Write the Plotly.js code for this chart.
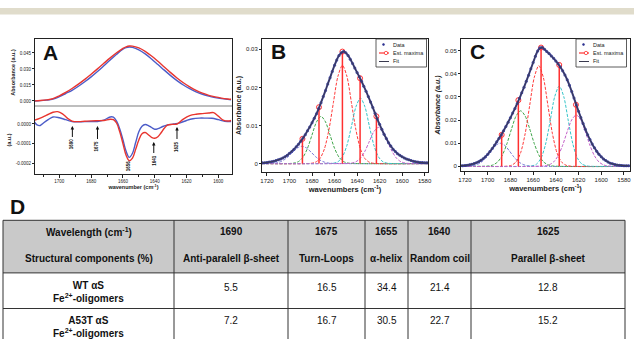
<!DOCTYPE html>
<html><head><meta charset="utf-8">
<script src="https://cdn.plot.ly/plotly-3.0.1.min.js"></script>
<style>html,body{margin:0;padding:0;background:#fff}#chart{width:634px;height:339px}</style>
</head><body><div id="chart"></div>
<script>
// ---------- Panel A : absorbance (top) ----------
const aTopWave = [1716,1712,1708,1704,1700,1696,1692,1688,1684,1680,1676,1672,1668,1664,1660,1658,1656,1654,1650,1646,1642,1638,1634,1630,1626,1622,1618,1614,1610,1606,1602,1598,1594,1592];
const aTopRed  = [0.0001,0.0004,0.0010,0.0022,0.0048,0.0080,0.0117,0.0158,0.0203,0.0251,0.0301,0.0353,0.0404,0.0452,0.0494,0.0508,0.0515,0.0514,0.0497,0.0465,0.0422,0.0372,0.0319,0.0266,0.0216,0.0171,0.0132,0.0099,0.0073,0.0053,0.0038,0.0027,0.0019,0.0016];
const aTopBlue = [0.0000,0.0003,0.0008,0.0017,0.0040,0.0070,0.0100,0.0138,0.0180,0.0226,0.0276,0.0330,0.0385,0.0438,0.0485,0.0500,0.0506,0.0503,0.0480,0.0442,0.0394,0.0342,0.0289,0.0238,0.0191,0.0150,0.0115,0.0086,0.0063,0.0045,0.0032,0.0022,0.0015,0.0012];
// ---------- Panel A : second derivative (bottom) ----------
const aDerWaveRed = [1716,1712,1708,1704,1701,1698,1695,1692,1688,1684,1680,1676,1672,1668,1666,1664,1662,1660,1658,1656,1654,1652,1650,1648,1646,1644,1642,1640,1638,1636,1634,1632,1629,1626,1622,1618,1614,1610,1606,1603,1600,1597,1594,1592];
const aDerRed = [0.000018,0.000030,0.000045,0.000060,0.000063,0.000052,0.000030,0.000015,0.000012,0.000014,0.000016,0.000017,0.000018,0.000024,0.000022,0.000005,-0.000040,-0.000100,-0.000160,-0.000188,-0.000175,-0.000130,-0.000082,-0.000050,-0.000044,-0.000055,-0.000068,-0.000073,-0.000065,-0.000045,-0.000022,-0.000006,-0.000002,0.000000,0.000025,0.000043,0.000050,0.000053,0.000056,0.000058,0.000040,0.000020,0.000015,0.000018];
const aDerWaveBlue = [1716,1714,1712,1710,1707,1704,1700,1696,1692,1688,1684,1680,1676,1672,1668,1666,1664,1662,1660,1658,1656,1654,1652,1650,1648,1646,1644,1642,1640,1638,1635,1632,1628,1624,1620,1616,1612,1608,1604,1600,1596,1592];
const aDerBlue = [0.000015,-0.000005,-0.000008,0.000005,0.000022,0.000036,0.000032,0.000022,0.000012,0.000011,0.000012,0.000012,0.000013,0.000020,0.000036,0.000035,0.000015,-0.000025,-0.000080,-0.000140,-0.000171,-0.000150,-0.000095,-0.000040,-0.000012,-0.000003,-0.000008,-0.000018,-0.000027,-0.000024,-0.000013,-0.000005,0.000000,0.000006,0.000018,0.000027,0.000030,0.000030,0.000029,0.000022,0.000014,0.000012];
const aBandPos   = [1691.8, 1676, 1656, 1640.6, 1626];
const aBandTipY  = [-0.0000103, -0.0000103, -0.000215, -0.0000923, -0.0000154];
const aBandLabel = ['1690','1675','1656','1641','1625'];
const aBandArrow = [18, 20, 0, 18, 19];

// ---------- Panels B and C : data ----------
const specWave = [1724,1722,1720,1718,1716,1714,1712,1710,1708,1706,1704,1702,1700,1698,1696,1694,1692,1690,1688,1686,1684,1682,1680,1678,1676,1674,1672,1670,1668,1666,1664,1662,1660,1658,1656,1654,1652,1650,1648,1646,1644,1642,1640,1638,1636,1634,1632,1630,1628,1626,1624,1622,1620,1618,1616,1614,1612,1610,1608,1606,1604,1602,1600,1598,1596,1594,1592,1590,1588,1586,1584,1582,1580,1578,1576];
const bData = [0.0002,0.0002,0.0003,0.0004,0.0005,0.0006,0.0008,0.0010,0.0012,0.0015,0.0018,0.0022,0.0027,0.0032,0.0038,0.0044,0.0051,0.0059,0.0067,0.0076,0.0086,0.0096,0.0107,0.0119,0.0131,0.0145,0.0160,0.0176,0.0192,0.0209,0.0225,0.0242,0.0258,0.0272,0.0284,0.0291,0.0294,0.0291,0.0284,0.0274,0.0263,0.0251,0.0239,0.0228,0.0216,0.0203,0.0190,0.0176,0.0162,0.0147,0.0132,0.0117,0.0103,0.0090,0.0077,0.0066,0.0055,0.0046,0.0038,0.0032,0.0026,0.0022,0.0018,0.0015,0.0012,0.0010,0.0008,0.0006,0.0005,0.0004,0.0003,0.0003,0.0002,0.0002,0.0002];
const cData = [0.0003,0.0003,0.0004,0.0005,0.0007,0.0009,0.0012,0.0016,0.0020,0.0026,0.0033,0.0042,0.0052,0.0064,0.0077,0.0091,0.0106,0.0121,0.0137,0.0154,0.0172,0.0191,0.0210,0.0230,0.0250,0.0272,0.0294,0.0318,0.0342,0.0368,0.0394,0.0421,0.0448,0.0475,0.0498,0.0512,0.0513,0.0506,0.0496,0.0487,0.0477,0.0467,0.0455,0.0443,0.0429,0.0413,0.0395,0.0374,0.0350,0.0323,0.0295,0.0266,0.0238,0.0211,0.0185,0.0160,0.0137,0.0116,0.0097,0.0080,0.0065,0.0052,0.0041,0.0032,0.0025,0.0019,0.0014,0.0011,0.0008,0.0006,0.0005,0.0004,0.0003,0.0003,0.0003];
const fitWave = [1724,1720,1716,1712,1708,1704,1700,1696,1692,1688,1684,1680,1676,1672,1668,1664,1660,1656,1652,1648,1644,1640,1636,1632,1628,1624,1620,1616,1612,1608,1604,1600,1596,1592,1588,1584,1580,1576];
const bFit = [0.0002,0.0003,0.0005,0.0008,0.0012,0.0018,0.0027,0.0038,0.0051,0.0067,0.0086,0.0107,0.0131,0.0160,0.0192,0.0225,0.0258,0.0284,0.0294,0.0284,0.0263,0.0239,0.0216,0.0190,0.0162,0.0132,0.0103,0.0077,0.0055,0.0038,0.0026,0.0018,0.0012,0.0008,0.0005,0.0003,0.0002,0.0002];
const cFit = [0.0003,0.0004,0.0007,0.0012,0.0020,0.0033,0.0052,0.0077,0.0106,0.0137,0.0172,0.0210,0.0250,0.0294,0.0342,0.0394,0.0448,0.0498,0.0513,0.0496,0.0477,0.0455,0.0429,0.0395,0.0350,0.0295,0.0238,0.0185,0.0137,0.0097,0.0065,0.0041,0.0025,0.0014,0.0008,0.0005,0.0003,0.0003];
const bMaxPos = [1688.5, 1673.8, 1653, 1637.3, 1622.8];
const bMaxVal = [0.0065, 0.0148, 0.0294, 0.0224, 0.0124];
const cMaxPos = [1687.7, 1673, 1653, 1637, 1622.3];
const cMaxVal = [0.0136, 0.0286, 0.0513, 0.0438, 0.0266];
// fitted components (1690, 1675, 1655, 1640, 1625 bands)
const comp1Wave = [1725,1717,1713,1709,1705,1701,1697,1693,1689,1685,1681,1677,1673,1669,1665,1661,1575];
const bComp1 = [0,0.00004,0.00013,0.00039,0.00094,0.00187,0.00307,0.00412,0.00455,0.00412,0.00307,0.00187,0.00094,0.00039,0.00013,0.00004,0];
const cComp1 = [0,0.00008,0.00029,0.00085,0.00206,0.00411,0.00674,0.00906,0.0100,0.00906,0.00674,0.00411,0.00206,0.00085,0.00029,0.00008,0];
const bComp2Wave = [1725,1700,1696,1692,1688,1684,1680,1676,1672,1668,1664,1660,1656,1652,1648,1644,1575];
const bComp2 = [0,0.00003,0.00014,0.00054,0.00168,0.00403,0.00752,0.01094,0.0124,0.01094,0.00752,0.00403,0.00168,0.00054,0.00014,0.00003,0];
const cComp2Wave = [1725,1699,1695,1691,1687,1683,1679,1675,1671,1667,1663,1659,1655,1651,1647,1643,1575];
const cComp2 = [0,0.00019,0.00069,0.00203,0.00494,0.00986,0.01618,0.02174,0.0240,0.02174,0.01618,0.00986,0.00494,0.00203,0.00069,0.00019,0];
const bComp3Wave = [1725,1681,1677,1673,1669,1665,1661,1657,1653,1649,1645,1641,1637,1633,1629,1625,1575];
const bComp3 = [0,0.00007,0.00036,0.00132,0.00384,0.00885,0.0160,0.0229,0.0258,0.0229,0.0160,0.00885,0.00384,0.00132,0.00036,0.00007,0];
const cComp3Wave = [1725,1683,1679,1675,1671,1667,1663,1659,1655,1651,1647,1643,1639,1635,1631,1627,1575];
const cComp3 = [0,0.0001,0.00048,0.00191,0.00589,0.01412,0.02638,0.03839,0.0435,0.03839,0.02638,0.01412,0.00589,0.00191,0.00048,0.0001,0];
const comp4Wave = [1725,1665,1661,1657,1653,1649,1645,1641,1637,1633,1629,1625,1621,1617,1613,1609,1575];
const bComp4 = [0,0.00002,0.0001,0.00049,0.00177,0.00478,0.00974,0.01491,0.0172,0.01491,0.00974,0.00478,0.00177,0.00049,0.0001,0.00002,0];
const cComp4 = [0,0.00003,0.00021,0.00099,0.00356,0.00965,0.01964,0.03008,0.0347,0.03008,0.01964,0.00965,0.00356,0.00099,0.00021,0.00003,0];
const bComp5Wave = [1725,1649,1645,1641,1637,1633,1629,1625,1621,1617,1613,1609,1605,1601,1597,1593,1575];
const bComp5 = [0,0.00003,0.00013,0.00049,0.00142,0.00326,0.0059,0.00844,0.0095,0.00844,0.0059,0.00326,0.00142,0.00049,0.00013,0.00003,0];
const cComp5Wave = [1725,1650,1646,1642,1638,1634,1630,1626,1622,1618,1614,1610,1606,1602,1598,1594,1575];
const cComp5 = [0,0.00018,0.00063,0.00188,0.00457,0.00912,0.01496,0.02011,0.0222,0.02011,0.01496,0.00912,0.00457,0.00188,0.00063,0.00018,0];
const legendNames = ['Data', 'Est. maxima', 'Fit'];

// ---------- Panel D : table ----------
const wavelengths = ['1690','1675','1655','1640','1625'];
const components  = ['Anti-paralell β-sheet','Turn-Loops','α-helix','Random coil','Parallel β-sheet'];
const sampleNames = ['WT αS', 'A53T αS'];
const wtValues   = [5.5, 16.5, 34.4, 21.4, 12.8];
const a53tValues = [7.2, 16.7, 30.5, 22.7, 15.2];

// ---------- drawing ----------
const W = 634, H = 339;
const PX = v => v / W, PY = v => 1 - v / H;
const FONT = 'Liberation Sans, Arial, sans-serif';
const RED = '#e8352f', BLUE = '#4c5cc8';
const DATA_C = '#2c3190', MAX_C = '#ff3030', FIT_C = '#3a3a50';
const compColors = ['#7a7ad8', '#3fa64a', '#ff3a3a', '#35c5c9', '#c460c8'];

const traces = [];
const shapes = [];
const annotations = [];

// A
traces.push({type:'scatter', mode:'lines', x:aTopWave, y:aTopBlue, xaxis:'x', yaxis:'y', line:{color:BLUE, width:1.4, shape:'spline'}, showlegend:false});
traces.push({type:'scatter', mode:'lines', x:aTopWave, y:aTopRed, xaxis:'x', yaxis:'y', line:{color:RED, width:1.4, shape:'spline'}, showlegend:false});
traces.push({type:'scatter', mode:'lines', x:aDerWaveBlue, y:aDerBlue, xaxis:'x2', yaxis:'y2', line:{color:BLUE, width:1.4, shape:'spline'}, showlegend:false});
traces.push({type:'scatter', mode:'lines', x:aDerWaveRed, y:aDerRed, xaxis:'x2', yaxis:'y2', line:{color:RED, width:1.4, shape:'spline'}, showlegend:false});

function spectrumPanel(xa, ya, comps, data, fit, maxPos, maxVal, legLeft) {
  comps.forEach((c, i) => traces.push({type:'scatter', mode:'lines', x:c[0], y:c[1], xaxis:xa, yaxis:ya,
    line:{color:compColors[i], width:1, dash:'3px,1.5px', shape:'spline', smoothing:0.8}, showlegend:false}));
  const sx = [], sy = [], sc = [];
  maxPos.forEach((p, i) => { sx.push(p, p, null); sy.push(maxVal[i], 0, null); sc.push(MAX_C, 'rgba(0,0,0,0)', 'rgba(0,0,0,0)'); });
  traces.push({type:'scatter', mode:'lines+markers', x:sx, y:sy, xaxis:xa, yaxis:ya, name:legendNames[1], showlegend:false,
    line:{color:MAX_C, width:1.5}, marker:{symbol:'circle-open', size:5, color:sc, line:{width:1}}});
  traces.push({type:'scatter', mode:'lines+markers', x:specWave, y:data, xaxis:xa, yaxis:ya, name:legendNames[0], showlegend:false,
    line:{color:DATA_C, width:2, shape:'spline'}, marker:{symbol:'circle', size:3, color:DATA_C}, opacity:0.9});
  traces.push({type:'scatter', mode:'lines', x:fitWave, y:fit, xaxis:xa, yaxis:ya, name:legendNames[2], showlegend:false,
    line:{color:FIT_C, width:1, shape:'spline'}});
  // compact legend box (as in the original figure)
  const bx = legLeft, by = 39, rows = [44.5, 53, 61.5];
  shapes.push({type:'rect', xref:'paper', yref:'paper', x0:PX(bx), x1:PX(bx+50.5), y0:PY(by+28), y1:PY(by),
    fillcolor:'#fff', line:{color:'#333', width:0.8}, layer:'above'});
  shapes.push({type:'circle', xref:'paper', yref:'paper', x0:PX(bx+6.5), x1:PX(bx+8.5), y0:PY(rows[0]+1), y1:PY(rows[0]-1),
    fillcolor:DATA_C, line:{color:DATA_C, width:0.6}, layer:'above'});
  shapes.push({type:'line', xref:'paper', yref:'paper', x0:PX(bx+3), x1:PX(bx+13), y0:PY(rows[1]), y1:PY(rows[1]),
    line:{color:MAX_C, width:1.2}, layer:'above'});
  shapes.push({type:'circle', xref:'paper', yref:'paper', x0:PX(bx+8.3), x1:PX(bx+11.7), y0:PY(rows[1]+1.7), y1:PY(rows[1]-1.7),
    fillcolor:'#fff', line:{color:MAX_C, width:0.8}, layer:'above'});
  shapes.push({type:'line', xref:'paper', yref:'paper', x0:PX(bx+3), x1:PX(bx+13), y0:PY(rows[2]), y1:PY(rows[2]),
    line:{color:FIT_C, width:1}, layer:'above'});
  legendNames.forEach((n, i) => annotations.push({xref:'paper', yref:'paper', x:PX(bx+15), y:PY(rows[i]), text:n,
    showarrow:false, xanchor:'left', yanchor:'middle', font:{family:FONT, size:5.5, color:'#222'}}));
}
spectrumPanel('x3','y3',
  [[comp1Wave,bComp1],[bComp2Wave,bComp2],[bComp3Wave,bComp3],[comp4Wave,bComp4],[bComp5Wave,bComp5]],
  bData, bFit, bMaxPos, bMaxVal, 376);
spectrumPanel('x4','y4',
  [[comp1Wave,cComp1],[cComp2Wave,cComp2],[cComp3Wave,cComp3],[comp4Wave,cComp4],[cComp5Wave,cComp5]],
  cData, cFit, cMaxPos, cMaxVal, 576);

// A band labels
aBandPos.forEach((p, i) => {
  annotations.push({xref:'x2', yref:'y2', x:p, y:aBandTipY[i], text:'<b>' + aBandLabel[i] + '</b>', textangle:-90,
    font:{family:FONT, size:4.5, color:'#111'}, showarrow:aBandArrow[i] > 0, ax:0, ay:aBandArrow[i],
    arrowhead:2, arrowsize:0.7, arrowwidth:1, arrowcolor:'#111', standoff:0, startstandoff:0});
});
// panel letters
[['A',50,53],['B',278,51],['C',477,51],['D',17,206]].forEach(l => annotations.push({xref:'paper', yref:'paper',
  x:PX(l[1]), y:PY(l[2]), text:'<b>' + l[0] + '</b>', showarrow:false, font:{family:FONT, size:21, color:'#111'},
  xanchor:'center', yanchor:'middle'}));

// D table (cells as shapes, text as annotations)
const colWidths = [171, 114, 77, 43, 63, 154];
const colEdges = [3];
colWidths.forEach(w => colEdges.push(colEdges[colEdges.length - 1] + w));
const rowEdges = [220.3, 272.9, 308.5, 346];
const LINE_C = '#333';
shapes.push({type:'rect', xref:'paper', yref:'paper', x0:PX(colEdges[0]), x1:PX(colEdges[6]), y0:PY(rowEdges[1]), y1:PY(rowEdges[0]),
  fillcolor:'#c9c9c9', line:{width:0}, layer:'below'});
rowEdges.slice(0, 3).forEach(r => shapes.push({type:'line', xref:'paper', yref:'paper', x0:PX(colEdges[0]), x1:PX(colEdges[6]),
  y0:PY(r), y1:PY(r), line:{color:LINE_C, width:1}}));
colEdges.forEach(c => shapes.push({type:'line', xref:'paper', yref:'paper', x0:PX(c), x1:PX(c),
  y0:PY(rowEdges[3]), y1:PY(rowEdges[0]), line:{color:LINE_C, width:1}}));
const colCenter = i => PX((colEdges[i] + colEdges[i + 1]) / 2);
const cellText = (i, y, txt, bold) => annotations.push({xref:'paper', yref:'paper', x:colCenter(i), y:PY(y), text:txt,
  showarrow:false, xanchor:'center', yanchor:'middle', align:'center',
  font:{family:FONT, size:10, color:'#111', weight:bold ? 'bold' : 'normal'}});
cellText(0, 231.6, 'Wavelength (cm<sup>-1</sup>)', true);
cellText(0, 258.7, 'Structural components (%)', true);
wavelengths.forEach((w, i) => { cellText(i + 1, 231.6, w, true); cellText(i + 1, 258.7, components[i], true); });
cellText(0, 292, sampleNames[0] + '<br>Fe<sup>2+</sup>-oligomers', true);
cellText(0, 326.5, sampleNames[1] + '<br>Fe<sup>2+</sup>-oligomers', true);
wtValues.forEach((v, i) => cellText(i + 1, 287, v.toFixed(1), false));
a53tValues.forEach((v, i) => cellText(i + 1, 320.5, v.toFixed(1), false));

// top band of the page
shapes.push({type:'rect', xref:'paper', yref:'paper', x0:0, x1:1, y0:PY(14.5), y1:PY(8), fillcolor:'#e0dccb', line:{width:0}});
// separator between the two parts of panel A
shapes.push({type:'line', xref:'x domain', yref:'y domain', x0:0, x1:1, y0:0, y1:0, line:{color:'#a8a8a8', width:1.5}});

const baseAxis = {showgrid:false, zeroline:false, showline:true, linecolor:'#222', linewidth:1, tickcolor:'#222', automargin:false};
const aXTicks = [1700,1680,1660,1640,1620,1600];
const specXTicks = [1720,1700,1680,1660,1640,1620,1600,1580];

const layout = {
  width:W, height:H, autosize:false, margin:{l:0,r:0,t:0,b:0}, paper_bgcolor:'#fff', plot_bgcolor:'rgba(0,0,0,0)',
  font:{family:FONT, color:'#222'}, showlegend:false,
  xaxis:Object.assign({}, baseAxis, {domain:[PX(35),PX(232)], anchor:'y', range:[1715.3,1591.4], side:'top', showticklabels:false, ticks:''}),
  yaxis:Object.assign({}, baseAxis, {domain:[PY(106),PY(39)], anchor:'x', range:[-0.0047,0.0581], mirror:true, ticks:'outside', ticklen:2,
    tickvals:[0,0.015,0.03,0.045], ticktext:['0.000','0.015','0.030','0.045'], tickfont:{size:4.5},
    title:{text:'<b>Absorbance (a.u.)</b>', font:{size:5.5}, standoff:3}}),
  xaxis2:Object.assign({}, baseAxis, {domain:[PX(35),PX(232)], anchor:'y2', range:[1715.3,1591.4], ticks:'outside', ticklen:2.5,
    tickvals:aXTicks, tickfont:{size:4.5}, minor:{ticks:'outside', ticklen:1.5, dtick:10, tick0:1600, tickcolor:'#222'},
    title:{text:'<b>wavenumber (cm<sup>-1</sup>)</b>', font:{size:5.5}, standoff:1}}),
  yaxis2:Object.assign({}, baseAxis, {domain:[PY(174),PY(106)], anchor:'x2', range:[-0.000256,0.000092], mirror:true, ticks:'outside', ticklen:2,
    tickvals:[0,-0.0001,-0.0002], ticktext:['0.0000','-0.0001','-0.0002'], tickfont:{size:4.5},
    title:{text:'<b>(a.u.)</b>', font:{size:5.5}, standoff:3}}),
  xaxis3:Object.assign({}, baseAxis, {domain:[PX(262),PX(428)], anchor:'y3', range:[1724.4,1577], mirror:true, ticks:'outside', ticklen:3,
    tickvals:specXTicks, tickfont:{size:6},
    title:{text:'<b>wavenumbers (cm<sup>-1</sup>)</b>', font:{size:7.5}, standoff:1}}),
  yaxis3:Object.assign({}, baseAxis, {domain:[PY(172),PY(39)], anchor:'x3', range:[-0.0022,0.0327], mirror:true, ticks:'outside', ticklen:2,
    tickvals:[0,0.01,0.02,0.03], ticktext:['0','0.01','0.02','0.03'], tickfont:{size:6},
    title:{text:'<b>Absorbance (a.u.)</b>', font:{size:7}, standoff:3}}),
  xaxis4:Object.assign({}, baseAxis, {domain:[PX(461),PX(630)], anchor:'y4', range:[1723.5,1574.7], mirror:true, ticks:'outside', ticklen:3,
    tickvals:specXTicks, tickfont:{size:6},
    title:{text:'<b>wavenumbers (cm<sup>-1</sup>)</b>', font:{size:7.5}, standoff:1}}),
  yaxis4:Object.assign({}, baseAxis, {domain:[PY(171),PY(39)], anchor:'x4', range:[-0.002,0.055], mirror:true, ticks:'outside', ticklen:2,
    tickvals:[0,0.01,0.02,0.03,0.04,0.05], ticktext:['0','0.01','0.02','0.03','0.04','0.05'], tickfont:{size:6},
    title:{text:'<b><i>Absorbance (a.u.)</i></b>', font:{size:7}, standoff:3}}),
  shapes:shapes,
  annotations:annotations
};

Plotly.newPlot('chart', traces, layout, {displayModeBar:false, staticPlot:true});
</script>
</body></html>
